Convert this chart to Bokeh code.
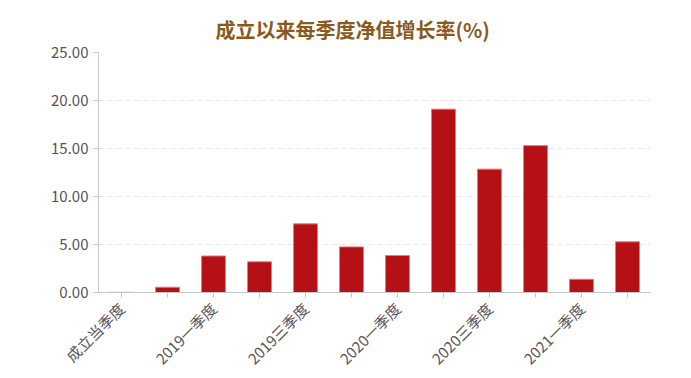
import math
from bokeh.plotting import figure
from bokeh.models import FixedTicker, NumeralTickFormatter, ColumnDataSource, Range1d
from bokeh.embed import file_html
from bokeh.resources import INLINE

categories = ["成立当季度", "2018四季度", "2019一季度", "2019二季度", "2019三季度", "2019四季度",
              "2020一季度", "2020二季度", "2020三季度", "2020四季度", "2021一季度", "2021二季度"]
values = [0.02, 0.55, 3.80, 3.20, 7.15, 4.75, 3.85, 19.10, 12.85, 15.30, 1.38, 5.28]
shown_labels = ["成立当季度", "", "2019一季度", "", "2019三季度", "",
                "2020一季度", "", "2020三季度", "", "2021一季度", ""]
y_ticks = [0, 5, 10, 15, 20, 25]

FONT = "Noto Sans CJK SC"

xs = list(range(len(categories)))
src = ColumnDataSource(dict(x=xs, top=values, name=categories))

p = figure(width=691, height=378, output_backend="svg", toolbar_location=None,
           x_range=Range1d(-0.5, len(categories) - 0.5), y_range=Range1d(0, 25),
           min_border_left=98, min_border_right=41, min_border_bottom=86, min_border_top=52)

p.title.text = "成立以来每季度净值增长率(%)"
p.title.align = "left"
p.title.offset = 117
p.title.standoff = 17
p.title.text_color = "#8B5A1B"
p.title.text_font = FONT
p.title.text_font_size = "20px"
p.title.text_font_style = "bold"

p.vbar(x="x", top="top", width=0.52, source=src, fill_color="#B51015",
       line_color="#E07A80", line_width=1)

p.outline_line_color = None
p.xgrid.visible = False
p.ygrid.ticker = FixedTicker(ticks=y_ticks)
p.ygrid.grid_line_color = "#E6E6E6"
p.ygrid.grid_line_dash = "5 4"

p.yaxis.ticker = FixedTicker(ticks=y_ticks)
p.yaxis.formatter = NumeralTickFormatter(format="0.00")
p.xaxis.ticker = FixedTicker(ticks=xs)
p.xaxis.major_label_overrides = {i: s for i, s in zip(xs, shown_labels)}
p.xaxis.major_label_orientation = math.pi / 4
p.xaxis.major_label_standoff = 8

for ax in (p.xaxis, p.yaxis):
    ax.axis_line_color = "#C8C8C8"
    ax.major_tick_line_color = "#C8C8C8"
    ax.minor_tick_line_color = None
    ax.major_tick_out = 5
    ax.major_tick_in = 0
    ax.major_label_text_color = "#555555"
    ax.major_label_text_font = FONT
p.xaxis.major_label_text_font_size = "15px"
p.yaxis.major_label_text_font_size = "15px"

open("out.html", "w").write(file_html(p, INLINE))
